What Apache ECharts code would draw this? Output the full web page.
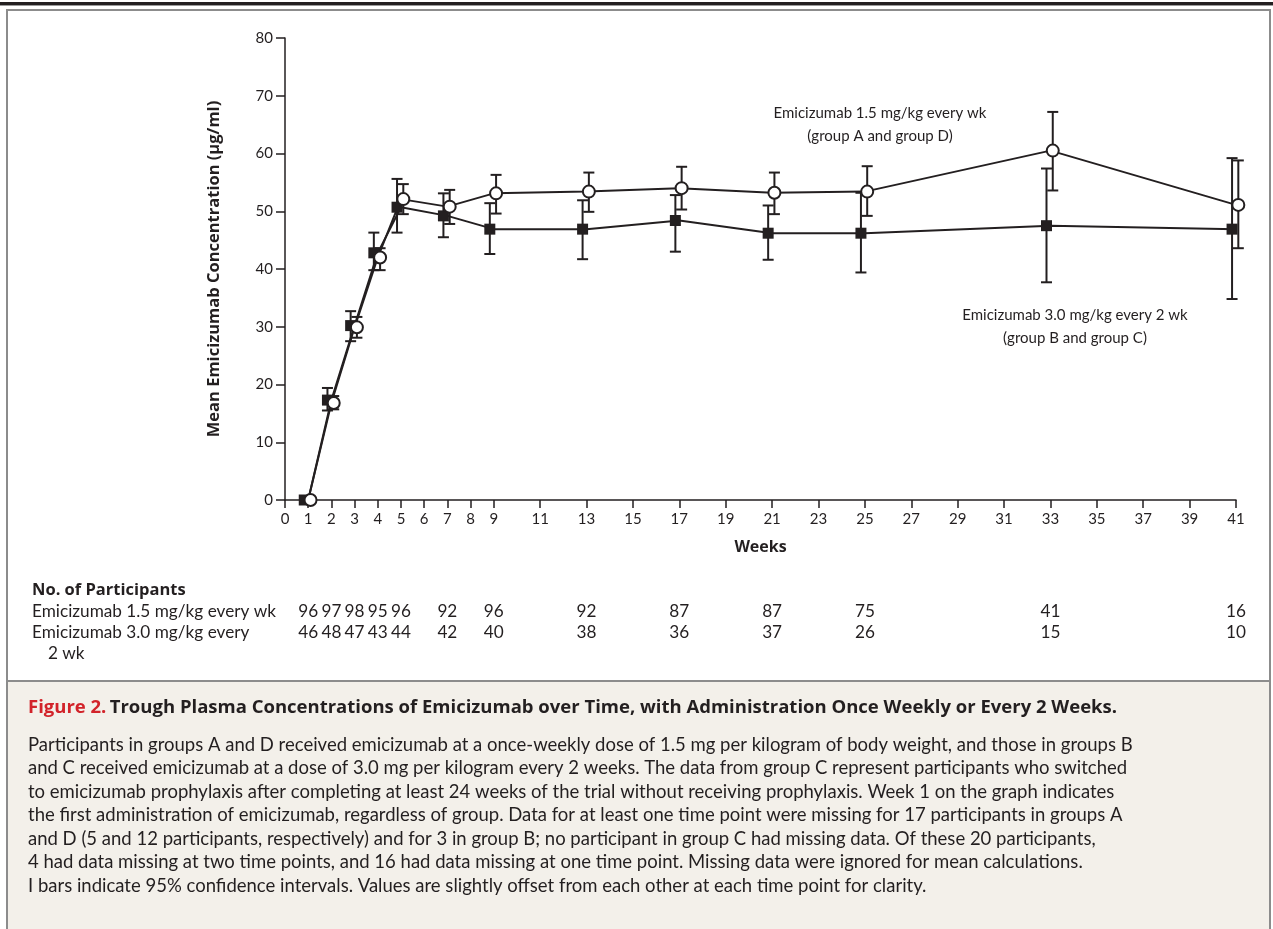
<!DOCTYPE html>
<html>
<head>
<meta charset="utf-8">
<script src="https://cdn.jsdelivr.net/npm/echarts@6/dist/echarts.min.js"></script>
<style>
html,body{margin:0;padding:0;background:#fff;}
#c{width:1273px;height:929px;}
</style>
</head>
<body>
<div id="c"></div>
<script>
// ---- data ----
const weeks = [1, 2, 3, 4, 5, 7, 9, 13, 17, 21, 25, 33, 41];
// Emicizumab 1.5 mg/kg every wk (open circles)
const meanA = [0, 16.8, 29.9, 42.0, 52.1, 50.8, 53.1, 53.4, 54.0, 53.2, 53.4, 60.5, 51.1];
const lowA  = [null, 15.7, 28.1, 39.8, 49.5, 47.8, 49.6, 49.9, 50.3, 49.5, 49.2, 53.6, 43.6];
const highA = [null, 18.0, 31.7, 43.6, 54.7, 53.7, 56.3, 56.7, 57.7, 56.7, 57.8, 67.2, 58.8];
// Emicizumab 3.0 mg/kg every 2 wk (filled squares)
const meanB = [0, 17.3, 30.2, 42.8, 50.7, 49.2, 46.9, 46.9, 48.4, 46.2, 46.2, 47.5, 46.9];
const lowB  = [null, 15.5, 27.5, 39.8, 46.3, 45.5, 42.6, 41.7, 43.0, 41.6, 39.4, 37.7, 34.8];
const highB = [null, 19.4, 32.7, 46.3, 55.6, 53.1, 51.4, 51.9, 52.8, 51.0, 53.2, 57.4, 59.2];
// number of participants
const nA = [96, 97, 98, 95, 96, 92, 96, 92, 87, 87, 75, 41, 16];
const nB = [46, 48, 47, 43, 44, 42, 40, 38, 36, 37, 26, 15, 10];
// tick labels
const xTicks = [0, 1, 2, 3, 4, 5, 6, 7, 8, 9, 11, 13, 15, 17, 19, 21, 23, 25, 27, 29, 31, 33, 35, 37, 39, 41];
const captionLines = [
  "Participants in groups A and D received emicizumab at a once-weekly dose of 1.5 mg per kilogram of body weight, and those in groups B",
  "and C received emicizumab at a dose of 3.0 mg per kilogram every 2 weeks. The data from group C represent participants who switched",
  "to emicizumab prophylaxis after completing at least 24 weeks of the trial without receiving prophylaxis. Week 1 on the graph indicates",
  "the first administration of emicizumab, regardless of group. Data for at least one time point were missing for 17 participants in groups A",
  "and D (5 and 12 participants, respectively) and for 3 in group B; no participant in group C had missing data. Of these 20 participants,",
  "4 had data missing at two time points, and 16 had data missing at one time point. Missing data were ignored for mean calculations.",
  "I bars indicate 95% confidence intervals. Values are slightly offset from each other at each time point for clarity."
];

// ---- style ----
const INK = '#231f20';
const FONT = 'Lato, "Open Sans", sans-serif';
const BFONT = '"Open Sans", Lato, sans-serif';
const OFF_A = 0.1, OFF_B = -0.17;   // visual offset of markers (weeks)

const chart = echarts.init(document.getElementById('c'), null, {renderer: 'canvas'});

function errData(off, lo, hi) {
  const out = [];
  weeks.forEach((w, i) => { if (lo[i] != null) out.push([w + off, lo[i], hi[i]]); });
  return out;
}
function errRender(params, api) {
  const x = api.value(0);
  const p1 = api.coord([x, api.value(1)]);
  const p2 = api.coord([x, api.value(2)]);
  const cw = 5.5;
  const st = {stroke: INK, lineWidth: 2};
  return {
    type: 'group',
    children: [
      {type: 'line', shape: {x1: p1[0], y1: p1[1], x2: p2[0], y2: p2[1]}, style: st},
      {type: 'line', shape: {x1: p1[0] - cw, y1: p1[1], x2: p1[0] + cw, y2: p1[1]}, style: st},
      {type: 'line', shape: {x1: p2[0] - cw, y1: p2[1], x2: p2[0] + cw, y2: p2[1]}, style: st}
    ]
  };
}

const option = {
  backgroundColor: '#ffffff',
  animation: false,
  grid: {left: 285, right: 37, top: 38, bottom: 429, containLabel: false},
  xAxis: {
    type: 'value', min: 0, max: 41, interval: 1,
    name: 'Weeks', nameLocation: 'middle', nameGap: 39,
    nameTextStyle: {fontFamily: BFONT, fontWeight: 'bold', fontSize: 16, color: INK},
    axisLine: {lineStyle: {color: INK, width: 1.5}},
    axisTick: {show: true, inside: false, length: 8, lineStyle: {color: INK, width: 1.5}, customValues: xTicks},
    axisLabel: {fontFamily: FONT, fontSize: 15, color: INK, margin: 12, customValues: xTicks},
    splitLine: {show: false}
  },
  yAxis: {
    type: 'value', min: 0, max: 80, interval: 10,
    name: 'Mean Emicizumab Concentration (μg/ml)', nameLocation: 'middle', nameGap: 62, nameRotate: 90,
    nameTextStyle: {fontFamily: BFONT, fontWeight: 'bold', fontSize: 16.5, color: INK},
    axisLine: {show: true, lineStyle: {color: INK, width: 1.5}},
    axisTick: {show: true, inside: false, length: 9, lineStyle: {color: INK, width: 1.5}},
    axisLabel: {fontFamily: FONT, fontSize: 15, color: INK, margin: 12},
    splitLine: {show: false}
  },
  series: [
    // connecting lines (through the nominal time points)
    {type: 'line', data: weeks.map((w, i) => [w, meanB[i]]), symbol: 'none', clip: false,
     lineStyle: {color: INK, width: 2}, z: 1, silent: true},
    {type: 'line', data: weeks.map((w, i) => [w, meanA[i]]), symbol: 'none', clip: false,
     lineStyle: {color: INK, width: 2}, z: 1, silent: true},
    // 95% CI bars
    {type: 'custom', renderItem: errRender, data: errData(OFF_B, lowB, highB), z: 2, silent: true, clip: false},
    {type: 'custom', renderItem: errRender, data: errData(OFF_A, lowA, highA), z: 2, silent: true, clip: false},
    // markers (slightly offset)
    {
      type: 'scatter', name: 'Emicizumab 3.0 mg/kg every 2 wk', clip: false,
      data: weeks.map((w, i) => [w + OFF_B, meanB[i]]),
      symbol: 'rect', symbolSize: 11,
      itemStyle: {color: INK, borderColor: INK, borderWidth: 0, opacity: 1},
      z: 3
    },
    {
      type: 'scatter', name: 'Emicizumab 1.5 mg/kg every wk', clip: false,
      data: weeks.map((w, i) => [w + OFF_A, meanA[i]]),
      symbol: 'circle', symbolSize: 12,
      itemStyle: {color: '#ffffff', borderColor: INK, borderWidth: 2, opacity: 1},
      z: 4
    }
  ],
  graphic: []
};
chart.setOption(option);

// ---- decorations & texts ----
const g = [];
// top rule
g.push({type: 'rect', shape: {x: 0, y: 2, width: 1273, height: 3}, style: {fill: INK}, z: 10});
g.push({type: 'rect', shape: {x: 0, y: 5, width: 1273, height: 1}, style: {fill: '#9a9a9a'}, z: 10});
// frame
g.push({type: 'rect', shape: {x: 7, y: 10, width: 1263, height: 930}, style: {fill: 'none', stroke: '#8c8c8c', lineWidth: 2}, z: 10});
// caption panel
g.push({type: 'rect', shape: {x: 7, y: 681, width: 1263, height: 260}, style: {fill: '#f3f0ea', stroke: '#8c8c8c', lineWidth: 2}, z: -1});

// series annotations
g.push({type: 'text', style: {text: 'Emicizumab 1.5 mg/kg every wk\n(group A and group D)', x: 880, y: 102, textAlign: 'center', font: '15px ' + FONT, fill: INK, lineHeight: 23}, z: 10});
g.push({type: 'text', style: {text: 'Emicizumab 3.0 mg/kg every 2 wk\n(group B and group C)', x: 1075, y: 304, textAlign: 'center', font: '15px ' + FONT, fill: INK, lineHeight: 23}, z: 10});

// participants table
const TF = '17.2px ' + FONT;
g.push({type: 'text', style: {text: 'No. of Participants', x: 32, y: 590, textVerticalAlign: 'middle', font: 'bold 16.5px ' + BFONT, fill: INK}, z: 10});
g.push({type: 'text', style: {text: 'Emicizumab 1.5 mg/kg every wk', x: 32, y: 611, textVerticalAlign: 'middle', font: TF, fill: INK}, z: 10});
g.push({type: 'text', style: {text: 'Emicizumab 3.0 mg/kg every', x: 32, y: 632, textVerticalAlign: 'middle', font: TF, fill: INK}, z: 10});
g.push({type: 'text', style: {text: '2 wk', x: 48, y: 653, textVerticalAlign: 'middle', font: TF, fill: INK}, z: 10});
weeks.forEach((w, i) => {
  const px = chart.convertToPixel({xAxisIndex: 0}, w);
  g.push({type: 'text', style: {text: String(nA[i]), x: px, y: 611, textAlign: 'center', textVerticalAlign: 'middle', font: TF, fill: INK}, z: 10});
  g.push({type: 'text', style: {text: String(nB[i]), x: px, y: 632, textAlign: 'center', textVerticalAlign: 'middle', font: TF, fill: INK}, z: 10});
});

// caption
g.push({type: 'text', style: {
  text: '{r|Figure 2.} {b|Trough Plasma Concentrations of Emicizumab over Time, with Administration Once Weekly or Every 2 Weeks.}',
  x: 28, y: 708, textVerticalAlign: 'middle',
  rich: {
    r: {fontFamily: BFONT, fontWeight: 'bold', fontSize: 18.5, fill: '#d2232a', color: '#d2232a'},
    b: {fontFamily: BFONT, fontWeight: 'bold', fontSize: 18.5, fill: INK, color: INK}
  }
}, z: 10});
captionLines.forEach((t, i) => {
  g.push({type: 'text', style: {text: t, x: 28, y: 745 + i * 23.5, textVerticalAlign: 'middle', font: '18.5px ' + FONT, fill: INK}, z: 10});
});

chart.setOption({graphic: g});
</script>
</body>
</html>
